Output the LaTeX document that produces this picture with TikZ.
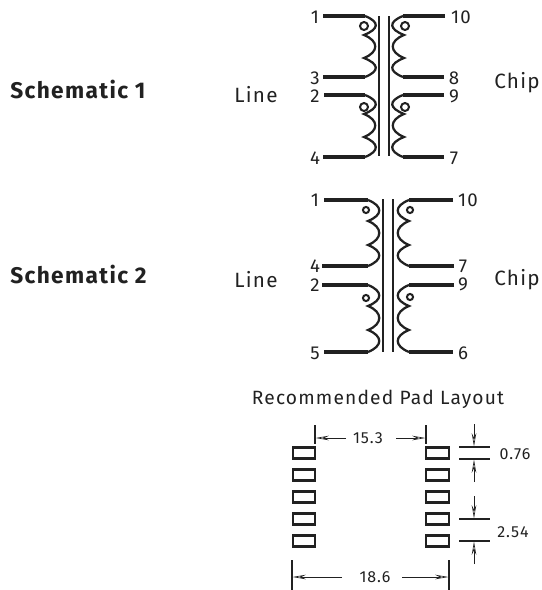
\documentclass[tikz,border=0pt]{standalone}
\usepackage{fontspec}
\setmainfont[LetterSpace=6]{Fira Sans}
\usetikzlibrary{arrows.meta}
\usetikzlibrary{calc}
\definecolor{ink}{rgb}{0.13,0.13,0.13}
\begin{document}
\begin{tikzpicture}
  [x=0.75pt,y=-0.75pt,
  wire/.style={ink,line width=2.3pt},
  coil/.style={ink,line width=1.7pt},
  core/.style={ink,line width=2.2pt},
  ring/.style={circle,draw=ink,line width=1.5pt,fill=white,inner sep=0pt,minimum size=6pt},
  smallring/.style={circle,draw=ink,line width=1.5pt,fill=white,inner sep=0pt,minimum size=4.6pt},
  pad/.style={draw=ink,line width=1.7pt,inner sep=0pt,minimum width=17pt,minimum height=8.4pt},
  bar/.style={ink,line width=1.6pt},
  dimline/.style={ink,line width=0.5pt,-{Stealth[open,length=10pt,width=3.4pt]}},
  pin/.style={ink,font=\fontsize{14}{16}\selectfont,inner sep=0pt},
  dim/.style={ink,font=\fontsize{12}{14}\selectfont,inner sep=0pt},
  side/.style={ink,font=\fontsize{15.5}{18}\selectfont,inner sep=0pt},
  padhead/.style={ink,font=\fontsize{14.4}{18}\selectfont,inner sep=0pt},
  title/.style={ink,font=\fontsize{17}{18}\selectfont\bfseries,inner sep=0pt},
  bumpr/.style={to path={.. controls ($(\tikztostart)+(15,6)$) and ($(\tikztotarget)+(15,-6)$) .. (\tikztotarget)}},
  bumpl/.style={to path={.. controls ($(\tikztostart)+(-15,6)$) and ($(\tikztotarget)+(-15,-6)$) .. (\tikztotarget)}}]
  \useasboundingbox (0,0) rectangle (542,590);

  % headings
  \node[title,anchor=west] (title1) at (10,89) {Schematic 1};
  \node[title,anchor=west] (title2) at (10,274) {Schematic 2};
  \node[side] (line1) at (256,95) {Line};
  \node[side] (chip1) at (517,83) {Chip};
  \node[side] (line2) at (256,280) {Line};
  \node[side] (chip2) at (517,280) {Chip};
  \node[padhead] (padtitle) at (378,399) {Recommended Pad Layout};

  % schematic 1
  \node[pin] (a1) at (315,17) {1};
  \node[pin] (a3) at (315,78) {3};
  \node[pin] (a2) at (315,96) {2};
  \node[pin] (a4) at (315,158) {4};
  \node[pin] (a10) at (461,17) {10};
  \node[pin] (a8) at (454,78) {8};
  \node[pin] (a9) at (454,96) {9};
  \node[pin] (a7) at (454,158) {7};

  \coordinate (w1) at (323,16);
  \coordinate (t1) at (365,16);
  \coordinate (u1) at (364,35);
  \coordinate (v1) at (364,58);
  \coordinate (t3) at (365,77);
  \coordinate (w3) at (323,77);
  \coordinate (w2) at (324,95);
  \coordinate (t2) at (365,95);
  \coordinate (u2) at (364,114);
  \coordinate (v2) at (364,137);
  \coordinate (t4) at (365,157);
  \coordinate (w4) at (323,157);
  \coordinate (w10) at (445,16);
  \coordinate (t10) at (403,16);
  \coordinate (u10) at (404,35);
  \coordinate (v10) at (404,58);
  \coordinate (t8) at (403,77);
  \coordinate (w8) at (444,77);
  \coordinate (w9) at (444,95);
  \coordinate (t9) at (403,95);
  \coordinate (u9) at (404,114);
  \coordinate (v9) at (404,137);
  \coordinate (t7) at (403,157);
  \coordinate (w7) at (444,157);

  \draw[wire] (w1) -- (t1);
  \draw[wire] (w3) -- (t3);
  \draw[wire] (w2) -- (t2);
  \draw[wire] (w4) -- (t4);
  \draw[wire] (w10) -- (t10);
  \draw[wire] (w8) -- (t8);
  \draw[wire] (w9) -- (t9);
  \draw[wire] (w7) -- (t7);
  \draw[coil] (t1) to[bumpr] (u1) to[bumpr] (v1) to[bumpr] (t3);
  \draw[coil] (t2) to[bumpr] (u2) to[bumpr] (v2) to[bumpr] (t4);
  \draw[coil] (t10) to[bumpl] (u10) to[bumpl] (v10) to[bumpl] (t8);
  \draw[coil] (t9) to[bumpl] (u9) to[bumpl] (v9) to[bumpl] (t7);
  \node[ring] (dot1) at (364,26) {};
  \node[ring] (dot2) at (364,107) {};
  \node[ring] (dot10) at (405,26) {};
  \node[ring] (dot9) at (405,107) {};

  \coordinate (corea) at (379,16);
  \coordinate (coreb) at (379,156);
  \coordinate (corec) at (389,16);
  \coordinate (cored) at (389,156);
  \draw[core] (corea) -- (coreb);
  \draw[core] (corec) -- (cored);

  % schematic 2
  \node[pin] (b1) at (315,200) {1};
  \node[pin] (b4) at (315,266) {4};
  \node[pin] (b2) at (315,285) {2};
  \node[pin] (b5) at (315,353) {5};
  \node[pin] (b10) at (468,200) {10};
  \node[pin] (b7) at (463,266) {7};
  \node[pin] (b9) at (463,284) {9};
  \node[pin] (b6) at (463,353) {6};

  \coordinate (x1) at (324,200);
  \coordinate (s1) at (368,200);
  \coordinate (q1) at (368,221);
  \coordinate (r1) at (368,245);
  \coordinate (s4) at (368,266);
  \coordinate (x4) at (322,266);
  \coordinate (x2) at (322,285);
  \coordinate (s2) at (368,285);
  \coordinate (q2) at (368,306);
  \coordinate (r2) at (368,330);
  \coordinate (s5) at (368,352);
  \coordinate (x5) at (324,352);
  \coordinate (x10) at (453,200);
  \coordinate (s10) at (409,200);
  \coordinate (q10) at (409,221);
  \coordinate (r10) at (409,245);
  \coordinate (s7) at (409,266);
  \coordinate (x7) at (454,266);
  \coordinate (x9) at (454,285);
  \coordinate (s9) at (409,285);
  \coordinate (q9) at (409,306);
  \coordinate (r9) at (409,330);
  \coordinate (s6) at (409,352);
  \coordinate (x6) at (453,352);

  \draw[wire] (x1) -- (s1);
  \draw[wire] (x4) -- (s4);
  \draw[wire] (x2) -- (s2);
  \draw[wire] (x5) -- (s5);
  \draw[wire] (x10) -- (s10);
  \draw[wire] (x7) -- (s7);
  \draw[wire] (x9) -- (s9);
  \draw[wire] (x6) -- (s6);
  \draw[coil] (s1) to[bumpr] (q1) to[bumpr] (r1) to[bumpr] (s4);
  \draw[coil] (s2) to[bumpr] (q2) to[bumpr] (r2) to[bumpr] (s5);
  \draw[coil] (s10) to[bumpl] (q10) to[bumpl] (r10) to[bumpl] (s7);
  \draw[coil] (s9) to[bumpl] (q9) to[bumpl] (r9) to[bumpl] (s6);
  \node[smallring] (dot21) at (366,210) {};
  \node[smallring] (dot22) at (366,298) {};
  \node[smallring] (dot210) at (410,210) {};
  \node[smallring] (dot29) at (410,297) {};

  \coordinate (corea2) at (383,199);
  \coordinate (coreb2) at (383,352);
  \coordinate (corec2) at (393,199);
  \coordinate (cored2) at (393,352);
  \draw[core] (corea2) -- (coreb2);
  \draw[core] (corec2) -- (cored2);

  % pads
  \node[pad] (l1) at (304,453) {};
  \node[pad] (l2) at (304,475) {};
  \node[pad] (l3) at (304,497) {};
  \node[pad] (l4) at (304,519) {};
  \node[pad] (l5) at (304,541) {};
  \node[pad] (r1p) at (437.5,453) {};
  \node[pad] (r2p) at (437.5,475) {};
  \node[pad] (r3p) at (437.5,497) {};
  \node[pad] (r4p) at (437.5,519) {};
  \node[pad] (r5p) at (437.5,541) {};

  % dimensions
  \node[dim] (d153) at (368,438) {15.3};
  \node[dim] (d186) at (375,577) {18.6};
  \node[dim] (d076) at (515,454) {0.76};
  \node[dim] (d254) at (513,532) {2.54};

  \coordinate (h1) at (315,425);
  \coordinate (h2) at (315,444);
  \coordinate (h3) at (426,425);
  \coordinate (h4) at (426,444);
  \coordinate (h5) at (292,560);
  \coordinate (h6) at (292,590);
  \coordinate (h7) at (449,560);
  \coordinate (h8) at (449,590);
  \draw[bar] (h1) -- (h2);
  \draw[bar] (h3) -- (h4);
  \draw[bar] (h5) -- (h6);
  \draw[bar] (h7) -- (h8);
  \draw[dimline] (d153) ++(-22,0) -- (315.5,438);
  \draw[dimline] (d153) ++(28,0) -- (425.5,438);
  \draw[dimline] (d186) ++(-33,0) -- (292.5,577);
  \draw[dimline] (d186) ++(27,0) -- (448.5,577);

  \coordinate (g1) at (459,447);
  \coordinate (g2) at (490,447);
  \coordinate (g3) at (459,459);
  \coordinate (g4) at (490,459);
  \coordinate (g5) at (459,519);
  \coordinate (g6) at (490,519);
  \coordinate (g7) at (459,541);
  \coordinate (g8) at (490,541);
  \draw[bar] (g1) -- (g2);
  \draw[bar] (g3) -- (g4);
  \draw[bar] (g5) -- (g6);
  \draw[bar] (g7) -- (g8);
  \draw[dimline] (474,424) -- (474,446.5);
  \draw[dimline] (474,482) -- (474,459.5);
  \draw[dimline] (474,496) -- (474,518.5);
  \draw[dimline] (474,564) -- (474,541.5);
\end{tikzpicture}
\end{document}
